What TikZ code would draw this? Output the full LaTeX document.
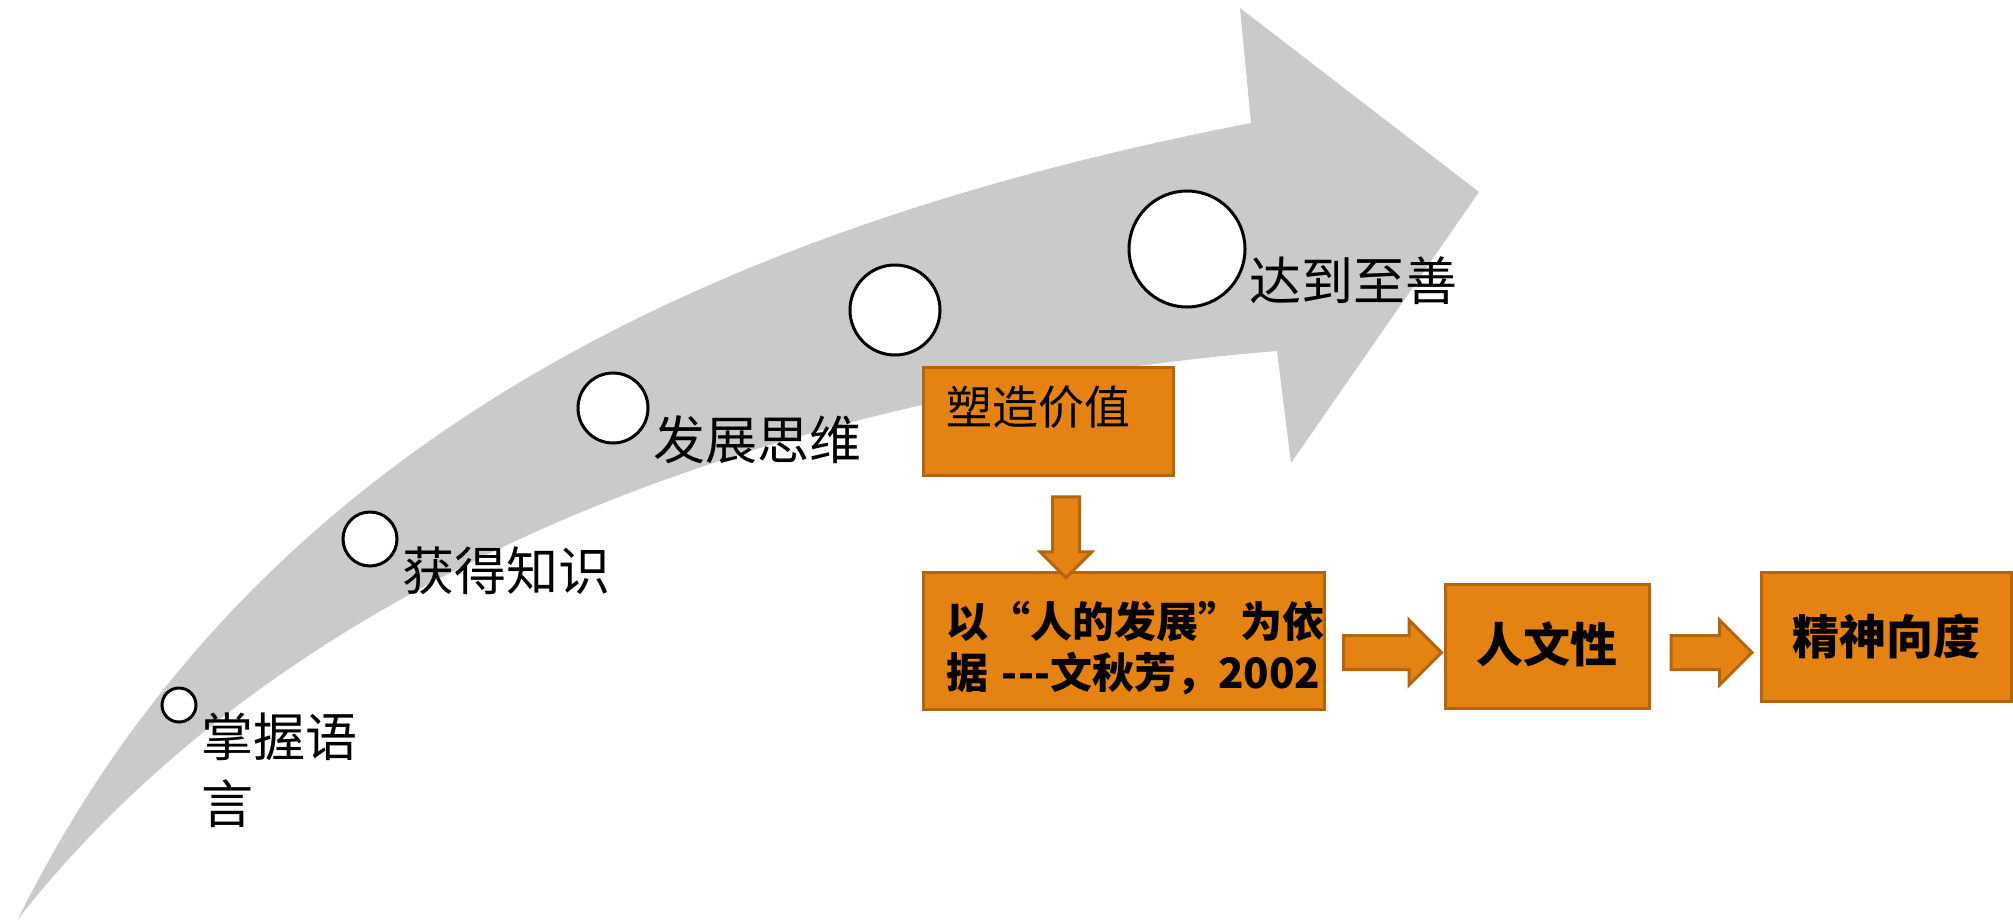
\documentclass[tikz,border=0pt]{standalone}
\usepackage{fontspec}
\newfontfamily\cjk{Noto Sans CJK SC}
\usepackage{xcolor}
\definecolor{silver}{HTML}{CACACA}
\definecolor{amber}{HTML}{E48312}
\definecolor{rust}{HTML}{B3650F}
\usetikzlibrary{shapes,arrows.meta,calc,positioning}
\tikzset{
    x=1pt,y=-1pt,
    ring/.style={circle, draw, line width=3pt, fill=white, inner sep=0pt},
    stage/.style={anchor=north west, inner sep=0pt, align=left, font=\cjk\fontsize{52}{67}\selectfont},
    box/.style={rectangle, draw=rust, fill=amber, line width=3pt, inner xsep=23pt, inner ysep=0pt, font=\cjk\bfseries\fontsize{47}{51}\selectfont},
    blockarrow/.style={single arrow, draw=rust, fill=amber, line width=3pt, inner sep=15.5pt, single arrow head extend=15.5pt, minimum height=81pt}
}

\begin{document}
\begin{tikzpicture}
    \fill[white] (0,0) rectangle (2013,919);
    \useasboundingbox (0,0) rectangle (2013,919);

    % the rising arrow
    \fill[silver] (18,919) .. controls (250,450) and (700,230) .. (1251,123) -- (1240,8) -- (1479,192)
        -- (1291,463) -- (1277,351) .. controls (800,390) and (300,560) .. (18,919) -- cycle;

    \node[ring, minimum size=34pt] (c1) at (179,705) {};
    \node[ring, minimum size=54pt] (c2) at (370,539) {};
    \node[ring, minimum size=70pt] (c3) at (613,408) {};
    \node[ring, minimum size=90pt] (c4) at (895,310) {};
    \node[ring, minimum size=116pt] (c5) at (1187,249) {};

    \node[stage] (l1) at (201,713) {掌握语\\言};
    \node[stage] (l2) at (402,547) {获得知识};
    \node[stage] (l3) at (653,415) {发展思维};
    \node[stage] (l5) at (1249,257) {达到至善};

    % boxes
    \node[box, text width=204pt, align=left, text height=57pt, text depth=51pt,
        font=\cjk\fontsize{46}{51}\selectfont] (value) at (1048,421) {塑造价值};
    \node[box, text width=355pt, align=left, text height=65pt, text depth=72pt,
        font=\cjk\bfseries\fontsize{42}{51}\selectfont] (basis) at (1123.5,640.5)
        {\mbox{以“人的发展”为依}\\\mbox{据 -{}-{}-文秋芳，2002}};
    \node[box, minimum width=204pt, text height=78.5pt, text depth=45.5pt] (human) at (1547,646) {人文性};
    \node[box, minimum width=250pt, text height=82.5pt, text depth=46.5pt] (spirit) at (1886,636.5) {精神向度};

    \node[blockarrow, rotate=-90, inner sep=12pt, single arrow head extend=12.5pt] (down) at (1066,530.5) {};
    \node[blockarrow, minimum height=98pt] (toHuman) at (1384,652.5) {};
    \node[blockarrow] (toSpirit) at (1703,652.5) {};
\end{tikzpicture}
\end{document}
